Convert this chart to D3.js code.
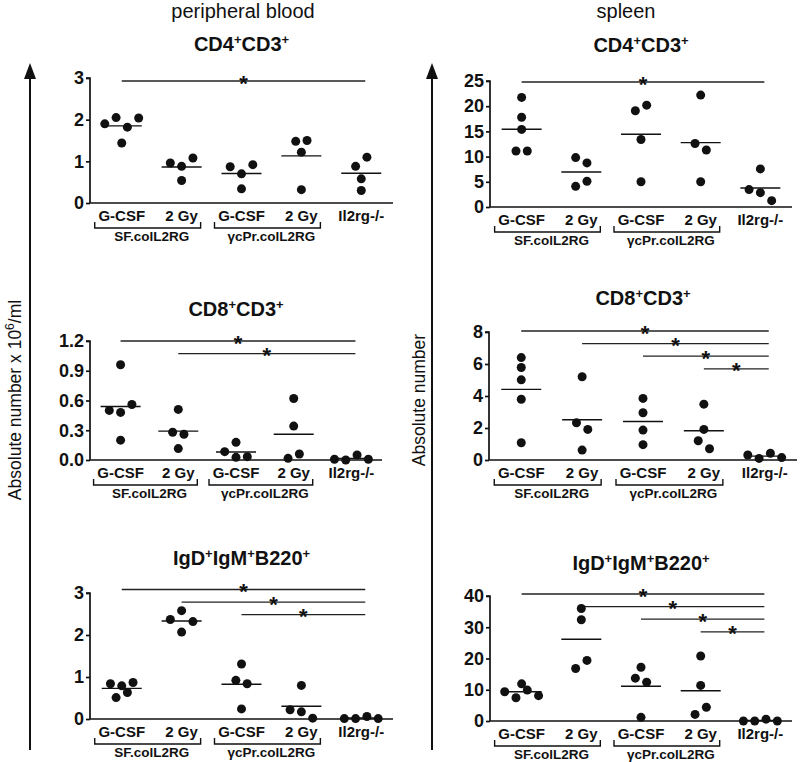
<!DOCTYPE html>
<html><head><meta charset="utf-8">
<script src="https://cdn.jsdelivr.net/npm/d3@7"></script>
<style>body{margin:0;background:#fff} svg{display:block}</style>
</head><body>
<svg id="chart" width="800" height="762"></svg>
<script>
// ---------- data ----------
const categories = ["G-CSF", "2 Gy", "G-CSF", "2 Gy", "Il2rg-/-"];
const groupLabels = ["SF.colL2RG", "γcPr.colL2RG"];
const groupSpans = [[0, 1], [2, 3]];
const columnTitles = ["peripheral blood", "spleen"];

// values per category (left-to-right reading order)
const pbCD4 = [
  [1.90, 2.05, 1.82, 2.04, 1.44],
  [0.96, 0.88, 1.08, 0.54],
  [0.87, 0.70, 0.92, 0.34],
  [1.48, 1.22, 1.50, 0.32],
  [0.88, 1.10, 0.58, 0.30]
];
const spCD4 = [
  [21.75, 17.8, 15.4, 11.1, 11.1],
  [9.8, 8.75, 4.1, 5.1],
  [19.1, 20.2, 13.4, 5.0],
  [22.2, 12.6, 11.3, 5.0],
  [7.56, 3.45, 2.85, 1.26]
];
const pbCD8 = [
  [0.96, 0.50, 0.48, 0.56, 0.20],
  [0.51, 0.28, 0.26, 0.115],
  [0.084, 0.178, 0.027, 0.034],
  [0.62, 0.342, 0.017, 0.06],
  [0.007, 0.0, 0.05, 0.007]
];
const spCD8 = [
  [6.4, 5.78, 5.01, 3.8, 1.08],
  [5.2, 2.33, 1.91, 0.62],
  [3.85, 2.95, 1.87, 0.96],
  [3.49, 1.91, 1.2, 0.7],
  [0.31, 0.1, 0.42, 0.15]
];
const pbIgD = [
  [0.84, 0.79, 0.51, 0.87, 0.63],
  [2.37, 2.58, 2.07, 2.32],
  [0.92, 1.31, 0.84, 0.24],
  [0.80, 0.22, 0.17, 0.02],
  [0.01, 0.01, 0.06, 0.01]
];
const spIgD = [
  [9.36, 11.9, 7.45, 9.9, 8.1],
  [36.0, 32.4, 16.8, 19.4],
  [13.7, 17.2, 12.4, 1.17],
  [20.8, 11.4, 2.1, 4.4],
  [0.0, 0.0, 0.6, 0.0]
];

// y tick values
const ticksPbCD4 = [0, 1, 2, 3];
const ticksSpCD4 = [0, 5, 10, 15, 20, 25];
const ticksPbCD8 = [0, 0.3, 0.6, 0.9, 1.2];
const ticksSpCD8 = [0, 2, 4, 6, 8];
const ticksPbIgD = [0, 1, 2, 3];
const ticksSpIgD = [0, 10, 20, 30, 40];

// significance comparisons: from category index -> Il2rg-/- (index 4)
const sigPbCD4 = [0];
const sigSpCD4 = [0];
const sigPbCD8 = [0, 1];
const sigSpCD8 = [0, 1, 2, 3];
const sigPbIgD = [0, 1, 2];
const sigSpIgD = [0, 1, 2, 3];

const titleCD4 = [["CD4", false], ["+", true], ["CD3", false], ["+", true]];
const titleCD8 = [["CD8", false], ["+", true], ["CD3", false], ["+", true]];
const titleIgD = [["IgD", false], ["+", true], ["IgM", false], ["+", true], ["B220", false], ["+", true]];

// ---------- layout ----------
const panels = [
  {data: pbCD4, ticks: ticksPbCD4, fmt: d3.format("d"), sig: sigPbCD4, title: titleCD4, x0: 90, x1: 393, top: 78, bottom: 203, titleY: 51, sigY: 81},
  {data: spCD4, ticks: ticksSpCD4, fmt: d3.format("d"), sig: sigSpCD4, title: titleCD4, x0: 490, x1: 792, top: 81, bottom: 207, titleY: 52, sigY: 82},
  {data: pbCD8, ticks: ticksPbCD8, fmt: d3.format(".1f"), sig: sigPbCD8, title: titleCD8, x0: 90, x1: 382, top: 341, bottom: 460, titleY: 316, sigY: 341},
  {data: spCD8, ticks: ticksSpCD8, fmt: d3.format("d"), sig: sigSpCD8, title: titleCD8, x0: 489, x1: 797, top: 332, bottom: 460, titleY: 305, sigY: 331},
  {data: pbIgD, ticks: ticksPbIgD, fmt: d3.format("d"), sig: sigPbIgD, title: titleIgD, x0: 90, x1: 393, top: 593, bottom: 719, titleY: 565, sigY: 589.5},
  {data: spIgD, ticks: ticksSpIgD, fmt: d3.format("d"), sig: sigSpIgD, title: titleIgD, x0: 490, x1: 792, top: 596, bottom: 721, titleY: 570, sigY: 594}
];

const svg = d3.select("#chart");
const FONT = "'Liberation Sans', Arial, Helvetica, sans-serif";
const INK = "#111";

// column titles
svg.append("text").attr("x", 243).attr("y", 18).attr("text-anchor", "middle")
  .attr("font-family", FONT).attr("font-size", 20).attr("fill", INK).text(columnTitles[0]);
svg.append("text").attr("x", 626).attr("y", 18).attr("text-anchor", "middle")
  .attr("font-family", FONT).attr("font-size", 20).attr("fill", INK).text(columnTitles[1]);

// big arrows + axis titles
function bigArrow(x) {
  svg.append("line").attr("x1", x).attr("x2", x).attr("y1", 750).attr("y2", 76)
    .attr("stroke", INK).attr("stroke-width", 2);
  svg.append("path").attr("d", `M${x - 6},79 L${x + 6},79 L${x},63 Z`).attr("fill", INK);
}
bigArrow(30);
bigArrow(432);
const t1 = svg.append("text").attr("transform", "translate(21,400) rotate(-90)")
  .attr("text-anchor", "middle").attr("font-family", FONT).attr("font-size", 17.5).attr("fill", INK);
t1.append("tspan").text("Absolute number x 10");
t1.append("tspan").attr("dy", -7).attr("font-size", 12).text("6");
t1.append("tspan").attr("dy", 7).text("/ml");
svg.append("text").attr("transform", "translate(425,400) rotate(-90)")
  .attr("text-anchor", "middle").attr("font-family", FONT).attr("font-size", 17.5).attr("fill", INK)
  .text("Absolute number");

// Prism-like horizontal spreading: agglomerative grouping of close values
function swarmOffsets(vals, y, s, thr, maxSpan) {
  const order = vals.map((v, i) => i).sort((a, b) => vals[a] - vals[b]);
  let clusters = order.map(i => [i]);
  const py = i => y(vals[i]);
  while (true) {
    let best = -1, bestGap = Infinity;
    for (let k = 0; k < clusters.length - 1; k++) {
      const lo = clusters[k], hi = clusters[k + 1];
      const gap = Math.abs(py(lo[lo.length - 1]) - py(hi[0]));
      const span = Math.abs(py(lo[0]) - py(hi[hi.length - 1]));
      if (gap < thr && span <= maxSpan && gap < bestGap) { bestGap = gap; best = k; }
    }
    if (best < 0) break;
    clusters.splice(best, 2, clusters[best].concat(clusters[best + 1]));
  }
  const offs = new Array(vals.length).fill(0);
  clusters.forEach(c => {
    const byIdx = c.slice().sort((a, b) => a - b);
    const n = byIdx.length;
    byIdx.forEach((k, j) => offs[k] = (j - (n - 1) / 2) * s);
  });
  return offs;
}

panels.forEach(p => {
  const g = svg.append("g");
  const x = d3.scalePoint().domain(d3.range(categories.length)).range([p.x0, p.x1]).padding(0.53);
  const y = d3.scaleLinear().domain([0, p.ticks[p.ticks.length - 1]]).range([p.bottom, p.top]);

  // title
  const cx = (p.x0 + p.x1) / 2;
  const tt = g.append("text").attr("x", cx).attr("y", p.titleY).attr("text-anchor", "middle")
    .attr("font-family", FONT).attr("font-weight", "bold").attr("font-size", 20).attr("fill", INK);
  p.title.forEach(([s, sup]) => {
    const ts = tt.append("tspan").text(s);
    if (sup) ts.attr("font-size", 13).attr("dy", -7);
    else if (tt.selectAll("tspan").size() > 1) ts.attr("dy", 7);
  });

  // y axis
  const yAxis = d3.axisLeft(y).tickValues(p.ticks).tickFormat(p.fmt).tickSize(4).tickPadding(2);
  const ya = g.append("g").attr("transform", `translate(${p.x0},0)`).call(yAxis);
  ya.select(".domain").attr("d", `M-4,${p.top}H0V${p.bottom}`).attr("stroke", INK).attr("stroke-width", 1.7);
  ya.selectAll(".tick line").attr("stroke", INK).attr("stroke-width", 1.7);
  ya.selectAll(".tick text").attr("font-family", FONT).attr("font-weight", "bold")
    .attr("font-size", 18).attr("fill", INK);

  // x axis
  g.append("line").attr("x1", p.x0).attr("x2", p.x1).attr("y1", p.bottom).attr("y2", p.bottom)
    .attr("stroke", INK).attr("stroke-width", 1.7);

  // category labels
  g.selectAll("text.cat").data(categories).join("text").attr("class", "cat")
    .attr("x", (d, i) => x(i)).attr("y", p.bottom + 18).attr("text-anchor", "middle")
    .attr("font-family", FONT).attr("font-weight", "bold").attr("font-size", 15).attr("fill", INK)
    .text(d => d);

  // group brackets
  groupSpans.forEach(([a, b], gi) => {
    const l = x(a) - 27, r = x(b) + 19, yb = p.bottom + 25;
    g.append("path").attr("d", `M${l},${yb - 6}V${yb}H${r}V${yb - 6}`)
      .attr("fill", "none").attr("stroke", INK).attr("stroke-width", 1.4);
    g.append("text").attr("x", (x(a) + x(b)) / 2).attr("y", p.bottom + 38).attr("text-anchor", "middle")
      .attr("font-family", FONT).attr("font-weight", "bold").attr("font-size", 13.5).attr("fill", INK)
      .text(groupLabels[gi]);
  });

  // significance bars
  p.sig.forEach((from, k) => {
    const ly = p.sigY + k * 12.6;
    const xa = x(from), xb = x(4) + 4;
    g.append("line").attr("x1", xa).attr("x2", xb).attr("y1", ly).attr("y2", ly)
      .attr("stroke", "#222").attr("stroke-width", 1.3);
    g.append("text").attr("x", (xa + xb) / 2).attr("y", ly + 9.5).attr("text-anchor", "middle")
      .attr("font-family", FONT).attr("font-weight", "bold").attr("font-size", 22).attr("fill", INK)
      .text("*");
  });

  // points and mean lines
  p.data.forEach((vals, ci) => {
    const offs = swarmOffsets(vals, y, 11.3, 9.5, 12);
    g.selectAll(null).data(vals).join("circle")
      .attr("cx", (d, i) => x(ci) + offs[i]).attr("cy", d => y(d)).attr("r", 4.5)
      .attr("fill", INK);
    const m = d3.mean(vals);
    g.append("line").attr("x1", x(ci) - 20).attr("x2", x(ci) + 20)
      .attr("y1", y(m)).attr("y2", y(m)).attr("stroke", INK).attr("stroke-width", 1.4);
  });
});
</script>
</body></html>
